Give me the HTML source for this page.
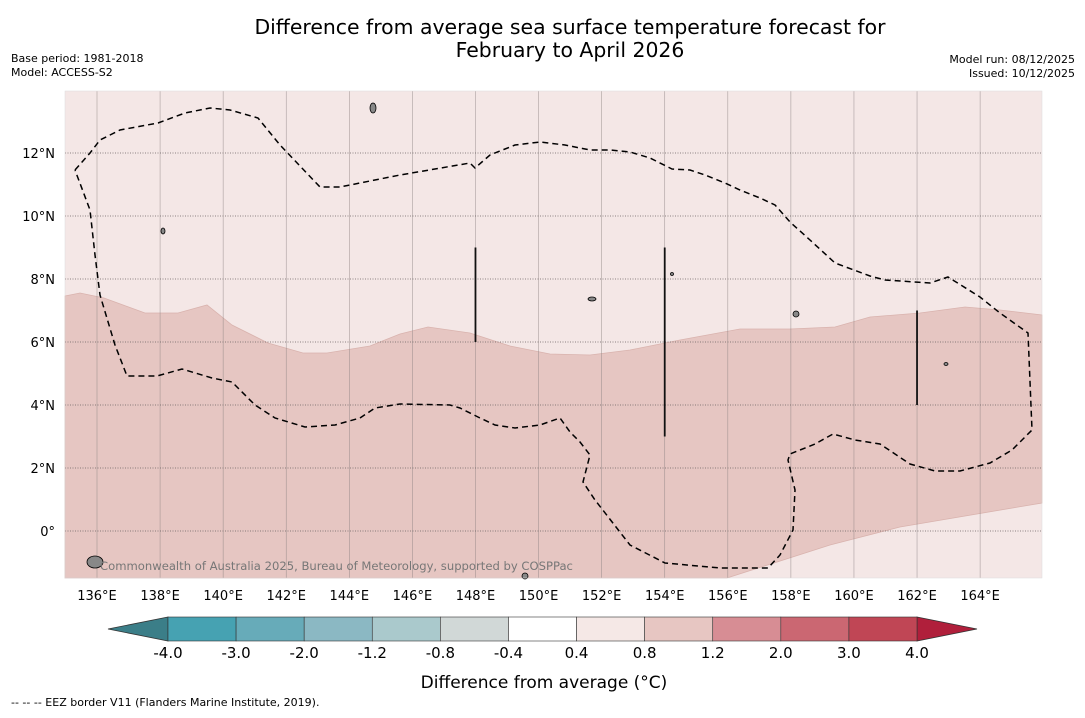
<!DOCTYPE html>
<html><head><meta charset="utf-8"><style>
body{margin:0;background:#fff;width:1085px;height:713px;overflow:hidden;font-family:"Liberation Sans","DejaVu Sans",sans-serif}
svg text{font-family:"DejaVu Sans","Liberation Sans",sans-serif}
</style></head><body>
<svg id="c" width="1085" height="713" xmlns="http://www.w3.org/2000/svg">
<text x="570" y="34" font-size="20.4" text-anchor="middle">Difference from average sea surface temperature forecast for</text>
<text x="570" y="57" font-size="20.4" text-anchor="middle">February to April 2026</text>
<text x="11" y="62" font-size="11">Base period: 1981-2018</text>
<text x="11" y="76" font-size="11">Model: ACCESS-S2</text>
<text x="1075" y="63" font-size="11" text-anchor="end">Model run: 08/12/2025</text>
<text x="1075" y="77" font-size="11" text-anchor="end">Issued: 10/12/2025</text>
<g id="map"></g>
<g id="cb"></g>
<text x="544" y="688" font-size="17" text-anchor="middle">Difference from average (°C)</text>
<text x="11" y="706" font-size="11">--  --  -- EEZ border V11 (Flanders Marine Institute, 2019).</text>
</svg>
<script>
const lonTicks=[136,138,140,142,144,146,148,150,152,154,156,158,160,162,164];
const latTicks=[0,2,4,6,8,10,12];
const cbLevels=["-4.0","-3.0","-2.0","-1.2","-0.8","-0.4","0.4","0.8","1.2","2.0","3.0","4.0"];
const cbColors=["#46a2b2","#67abb9","#8bb8c3","#aac9cc","#d1d8d7","#ffffff","#f5e8e6","#e7c6c2","#d78d94","#cb6772","#c04655"];
const X0=65,X1=1042,Y0=91,Y1=578;
const lon=v=>97+(v-136)*31.54;
const lat=v=>531-v*31.5;
const NS="http://www.w3.org/2000/svg";
const map=document.getElementById('map'),cb=document.getElementById('cb');
function mk(p,tag,a){const e=document.createElementNS(NS,tag);for(const k in a)e.setAttribute(k,a[k]);p.appendChild(e);return e;}
let e=mk(map,'rect',{x:X0,y:Y0,width:X1-X0,height:Y1-Y0,fill:'#f4e7e6'});


const upper=[[65,296],[80,293],[104,298],[145,313],[178,313],[207,305],[232,325],[268,343],[303,353],[327,353],[370,346],[400,334],[428,327],[470,333],[510,346],[550,354],[590,355],[630,350],[680,340],[740,329],[790,329],[835,327],[870,317],[920,313],[965,307],[1000,310],[1042,315],[1042,503],[900,527],[830,545],[727,578],[65,578]];
e=mk(map,'path',{d:'M'+upper.map(p=>p.join(',')).join('L')+'Z',fill:'#e6c6c2',stroke:'#d9b3ae','stroke-width':0.8});


lonTicks.forEach(v=>{const x=lon(v);
 let l=mk(map,'line',{x1:x,x2:x,y1:Y0,y2:Y1,stroke:'#8a8080','stroke-width':0.6,'stroke-opacity':0.7});
 
 
 let t=mk(map,'text',{x:x,y:600,'font-size':13,'text-anchor':'middle'});t.textContent=v+'°E';
 
 });
latTicks.forEach(v=>{const y=lat(v);
 let l=mk(map,'line',{x1:X0,x2:X1,y1:y,y2:y,stroke:'#6a6060','stroke-width':0.8,'stroke-dasharray':'1,1.5'});
 
 
 let t=mk(map,'text',{x:55,y:y+5,'font-size':13,'text-anchor':'end'});t.textContent=v===0?'0°':v+'°N';
 
 });
const eez=[[75,170],[90,153],[100,140],[120,130],[158,123],[185,113],[210,108],[230,110],[258,118],[280,145],[320,187],[340,187],[400,175],[470,163],[475,168],[490,155],[515,145],[540,142],[565,145],[590,150],[610,150],[630,152],[650,158],[672,169],[690,170],[705,175],[725,183],[740,190],[760,198],[775,205],[790,222],[810,240],[835,263],[870,276],[885,280],[930,283],[948,277],[980,297],[1000,313],[1028,333],[1032,430],[1012,450],[990,463],[960,471],[935,471],[910,464],[880,444],[855,440],[833,434],[815,444],[790,454],[788,460],[795,490],[793,530],[780,555],[768,568],[720,568],[665,563],[630,545],[595,500],[583,482],[590,455],[580,442],[570,432],[560,418],[540,425],[515,428],[495,425],[478,417],[460,408],[450,405],[400,404],[375,408],[360,418],[335,425],[305,427],[275,418],[255,405],[232,382],[212,378],[182,369],[157,376],[127,376],[115,345],[100,295],[95,255],[90,210],[75,170]];
e=mk(map,'path',{d:'M'+eez.map(p=>p.join(',')).join('L'),fill:'none',stroke:'#000','stroke-width':1.5,'stroke-dasharray':'6,4'});


[[148,9,6],[154,9,3],[162,7,4]].forEach(s=>{let l=mk(map,'line',{x1:lon(s[0]),x2:lon(s[0]),y1:lat(s[1]),y2:lat(s[2]),stroke:'#111','stroke-width':1.8});
 
 });
[[373,108,3,5],[796,314,3,3],[946,364,2,1.5],[592,299,4,2],[95,562,8,6],[525,576,3,3],[672,274,1.5,1.5],[163,231,2,3]].forEach(s=>{let l=mk(map,'ellipse',{cx:s[0],cy:s[1],rx:s[2],ry:s[3],fill:'#888',stroke:'#000','stroke-width':0.8});
 
 });
e=mk(map,'text',{x:100,y:570,'font-size':11.6,fill:'#777'});e.textContent='Commonwealth of Australia 2025, Bureau of Meteorology, supported by COSPPac';


e=mk(map,'rect',{x:X0,y:Y0,width:X1-X0,height:Y1-Y0,fill:'none',stroke:'#ddd','stroke-width':0.5});
const cx0=168,cx1=917,cy0=617,cy1=641,w=(cx1-cx0)/cbColors.length;
e=mk(cb,'path',{d:`M${cx0},${cy0}L108,629L${cx0},${cy1}Z`,fill:'#3b7e88',stroke:'#333','stroke-width':0.8});


e=mk(cb,'path',{d:`M${cx1},${cy0}L977,629L${cx1},${cy1}Z`,fill:'#b01f3b',stroke:'#333','stroke-width':0.8});


cbColors.forEach((c,i)=>{let r=mk(cb,'rect',{x:cx0+i*w,y:cy0,width:w,height:cy1-cy0,fill:c,stroke:'#333','stroke-width':0.6});
 
 });
cbLevels.forEach((s,i)=>{let t=mk(cb,'text',{x:cx0+i*w,y:658,'font-size':15,'text-anchor':'middle'});t.textContent=s;
 
 });
</script>
</body></html>
